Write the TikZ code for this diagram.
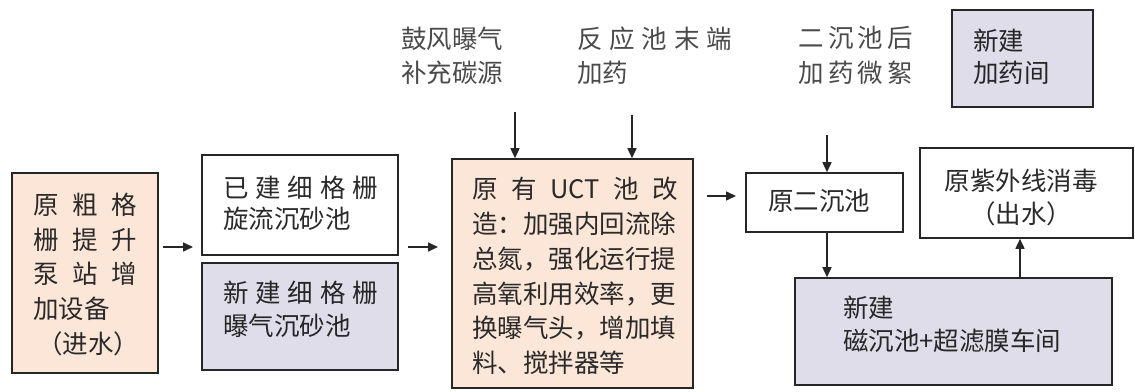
\documentclass[tikz,border=0pt]{standalone}
\usepackage{fontspec}
\setmainfont{Noto Sans CJK SC}
\usetikzlibrary{arrows.meta}
\definecolor{peach}{HTML}{FCE6D8}
\definecolor{lav}{HTML}{E0DDEA}
\definecolor{bord}{HTML}{262626}
\definecolor{ink}{HTML}{2A2A2A}
\definecolor{lightink}{HTML}{4A4A4A}
\tikzset{
  box/.style={draw=bord, line width=1.6pt, inner sep=0pt, rectangle},
  pbox/.style={box, fill=peach},
  lbox/.style={box, fill=lav},
  wbox/.style={box, fill=white},
  txt/.style={inner sep=0pt, anchor=west, align=left, text=ink},
  arr/.style={draw=bord, line width=1.6pt, -{Triangle[length=10pt,width=9pt]}},
}
\newcommand{\fs}[1]{\fontsize{25.5}{#1}\selectfont}
\begin{document}
\begin{tikzpicture}[x=1pt,y=1pt]
\useasboundingbox (0,0) rectangle (1135,391);
% boxes
\node[pbox, minimum width=146, minimum height=200] (A) at (85,118) {};
\node[wbox, minimum width=196, minimum height=100] (B1) at (300,186) {};
\node[lbox, minimum width=196, minimum height=107] (B2) at (300,74.5) {};
\node[pbox, minimum width=241, minimum height=229] (C) at (572.5,117.5) {};
\node[wbox, minimum width=157, minimum height=59] (D) at (824.5,188.5) {};
\node[lbox, minimum width=141, minimum height=97] (G) at (1022.5,332.5) {};
\node[wbox, minimum width=213, minimum height=90] (E) at (1026.5,198) {};
\node[lbox, minimum width=317, minimum height=107] (F) at (953.5,59.5) {};
% texts
\node[txt, text width=104, font=\fs{34.75}] (tA) at (33,116.5)
  {原\hfill 粗\hfill 格\\栅\hfill 提\hfill 升\\泵\hfill 站\hfill 增\\加设备\\\hspace*{4pt}（进水）};
\node[txt, text width=155, font=\fs{31}] (tB1) at (223,187.5)
  {已\hfill 建\hfill 细\hfill 格\hfill 栅\\旋流沉砂池};
\node[txt, text width=155, font=\fs{33}, text=black!85] (tB2) at (223,81.5)
  {新\hfill 建\hfill 细\hfill 格\hfill 栅\\曝气沉砂池};
\node[txt, text width=206, font=\fs{34.75}] (tC) at (472,115)
  {原\hfill 有\hfill UCT\hfill 池\hfill 改\hspace*{2pt}\\造：加强内回流除\\总氮，强化运行提\\高氧利用效率，更\\换曝气头，增加填\\料、搅拌器等};
\node[txt, text width=104, font=\fs{34}, text=lightink] (tL1) at (401,335)
  {鼓风曝气\\补充碳源};
\node[txt, text width=155, font=\fs{34}, text=lightink] (tL2) at (577,335)
  {反\hfill 应\hfill 池\hfill 末\hfill 端\\加药};
\node[txt, text width=115, font=\fs{35}, text=lightink] (tL3) at (798,335.5)
  {二\hfill 沉\hfill 池\hfill 后\\加\hfill 药\hfill 微\hfill 絮};
\node[txt, text width=110, font=\fs{32}, text=black!85] (tG) at (973,334)
  {新建\\加药间};
\node[txt, text width=104, font=\fs{30}] (tD) at (768,190) {原二沉池};
\node[inner sep=0pt, align=center, text=ink, font=\fs{33}] (tE) at (1021,193.5)
  {原紫外线消毒\\（出水）};
\node[txt, text width=240, font=\fs{33}, text=black!85] (tF) at (843,66.5)
  {新建\\磁沉池+超滤膜车间};
% connectors
\coordinate (a1) at (163,144); \coordinate (a2) at (193,144);
\draw[arr] (a1) -- (a2);
\coordinate (b1) at (408,144); \coordinate (b2) at (438,144);
\draw[arr] (b1) -- (b2);
\coordinate (c1) at (707,195); \coordinate (c2) at (736,195);
\draw[arr] (c1) -- (c2);
\coordinate (l1) at (515,279);
\draw[arr] (l1) -- (l1 |- C.north);
\coordinate (l2) at (632,276);
\draw[arr] (l2) -- (l2 |- C.north);
\coordinate (l3) at (827,256);
\draw[arr] (l3) -- (l3 |- D.north);
\coordinate (d1) at (827,0);
\draw[arr] (d1 |- D.south) -- (d1 |- F.north);
\coordinate (e1) at (1020,0);
\draw[arr] (e1 |- F.north) -- (e1 |- E.south);
\end{tikzpicture}
\end{document}
